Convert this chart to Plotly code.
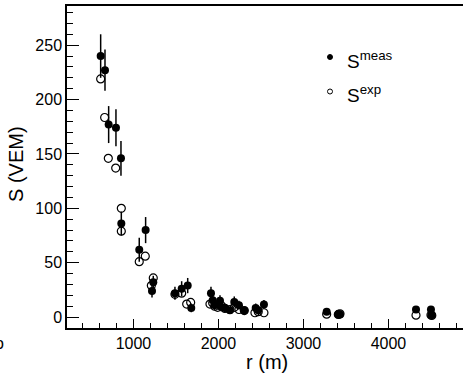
import plotly.graph_objects as go

# Station distances (m)
r_m = [614, 665, 708, 794, 853, 857, 1068, 1143, 1233, 1218, 1488, 1567, 1638, 1680,
       1912, 1932, 1955, 2018, 2030, 2076, 2135, 2186, 2241, 2304, 2438, 2468, 2535,
       3273, 3410, 3430, 4324, 4500, 4510]
# Measured signals (VEM)
s_meas = [240, 227, 177, 174, 146, 86, 62, 80, 32, 24, 22, 26, 29, 8.5,
          22, 15.6, 11, 15, 9.5, 8.5, 6.4, 14, 11, 6, 8.5, 6.4, 11.7,
          5, 2.5, 2.5, 7, 7, 2]
# Uncertainties on measured signals
s_err = [20, 19, 17, 17, 16, 11, 11, 12, 6, 6, 6, 7, 7, 4,
         6, 5, 4, 5, 4, 4, 3, 5, 4, 3, 4, 3, 4,
         3, 2, 2, 3, 3, 2]
# Expected-signal distances (m) and values (VEM)
r_exp = [614, 661, 704, 791, 857, 857, 1068, 1139, 1233, 1210, 1488, 1567, 1626, 1673,
         1900, 1932, 1955, 1990, 2030, 2076, 2135, 2186, 2241, 2304, 2429, 2468, 2535,
         3273, 3410, 3430, 4324, 4500, 4510]
s_exp = [219, 183.5, 146, 137, 100, 79, 51, 56, 36, 29, 21, 22, 12, 13.5,
         12, 13, 10, 9, 11, 8, 7, 9, 7, 6, 4, 5, 4,
         2.7, 2.5, 3, 1.8, 2, 1.5]

x_range = [218, 4877]
y_range = [-10, 286]

FONT = "Liberation Sans, Arial, Helvetica, sans-serif"

fig = go.Figure()

fig.add_trace(go.Scatter(
    x=r_exp, y=s_exp, mode="markers", name="S<sup>exp</sup>",
    marker=dict(symbol="circle-open", size=8, color="black", line=dict(width=1.2, color="black")),
    showlegend=False, cliponaxis=True,
))
fig.add_trace(go.Scatter(
    x=r_m, y=s_meas, mode="markers", name="S<sup>meas</sup>",
    marker=dict(symbol="circle", size=8, color="black"),
    error_y=dict(type="data", array=s_err, visible=True, color="black", thickness=1.5, width=0),
    showlegend=False, cliponaxis=True,
))

# legend (drawn as shapes/annotations in paper coordinates)
L, T, W, H = 67, 6, 396, 322
def px(xp):
    return (xp - L) / W
def py(yp):
    return (T + H - yp) / H

fig.add_shape(type="circle", xref="paper", yref="paper",
              x0=px(327.5), x1=px(332.5), y0=py(59.5), y1=py(54.5),
              fillcolor="black", line=dict(color="black", width=1))
fig.add_shape(type="circle", xref="paper", yref="paper",
              x0=px(327.5), x1=px(332.5), y0=py(94), y1=py(89),
              fillcolor="white", line=dict(color="black", width=1))
fig.add_annotation(xref="paper", yref="paper", x=px(345), y=py(60), xanchor="left", yanchor="middle",
                   text="S<sup>meas</sup>", showarrow=False, font=dict(family=FONT, size=19, color="black"))
fig.add_annotation(xref="paper", yref="paper", x=px(345), y=py(94), xanchor="left", yanchor="middle",
                   text="S<sup>exp</sup>", showarrow=False, font=dict(family=FONT, size=19, color="black"))

# clipped stray glyph at the left edge
fig.add_annotation(xref="paper", yref="paper", x=px(-1), y=py(343), xanchor="center", yanchor="middle",
                   text="o", showarrow=False, font=dict(family=FONT, size=16, color="black"))

# axis titles
fig.add_annotation(xref="paper", yref="paper", x=px(16), y=py(164), xanchor="center", yanchor="middle",
                   text="S (VEM)", textangle=-90, showarrow=False, font=dict(family=FONT, size=20, color="black"))
fig.add_annotation(xref="paper", yref="paper", x=px(267), y=py(362), xanchor="center", yanchor="middle",
                   text="r (m)", showarrow=False, font=dict(family=FONT, size=20, color="black"))

fig.update_layout(
    width=463, height=373,
    margin=dict(l=67, r=0, t=6, b=45),
    paper_bgcolor="white", plot_bgcolor="white",
    font=dict(family=FONT, size=16, color="black"),
    xaxis=dict(range=x_range, showgrid=False, zeroline=False,
               showline=True, linecolor="black", linewidth=1.5, mirror=True,
               ticks="inside", ticklen=9, tickwidth=1.2, tickcolor="black",
               tick0=0, dtick=1000, tickfont=dict(size=16),
               minor=dict(ticks="inside", ticklen=5, tickwidth=1, tickcolor="black", dtick=200, tick0=0, showgrid=False)),
    yaxis=dict(range=y_range, showgrid=False, zeroline=False,
               showline=True, linecolor="black", linewidth=1.5, mirror=False,
               ticks="inside", ticklen=12, tickwidth=1.2, tickcolor="black",
               tick0=0, dtick=50, tickfont=dict(size=16),
               minor=dict(ticks="inside", ticklen=6, tickwidth=1, tickcolor="black", dtick=10, tick0=0, showgrid=False)),
)

fig.write_html("out.html")
